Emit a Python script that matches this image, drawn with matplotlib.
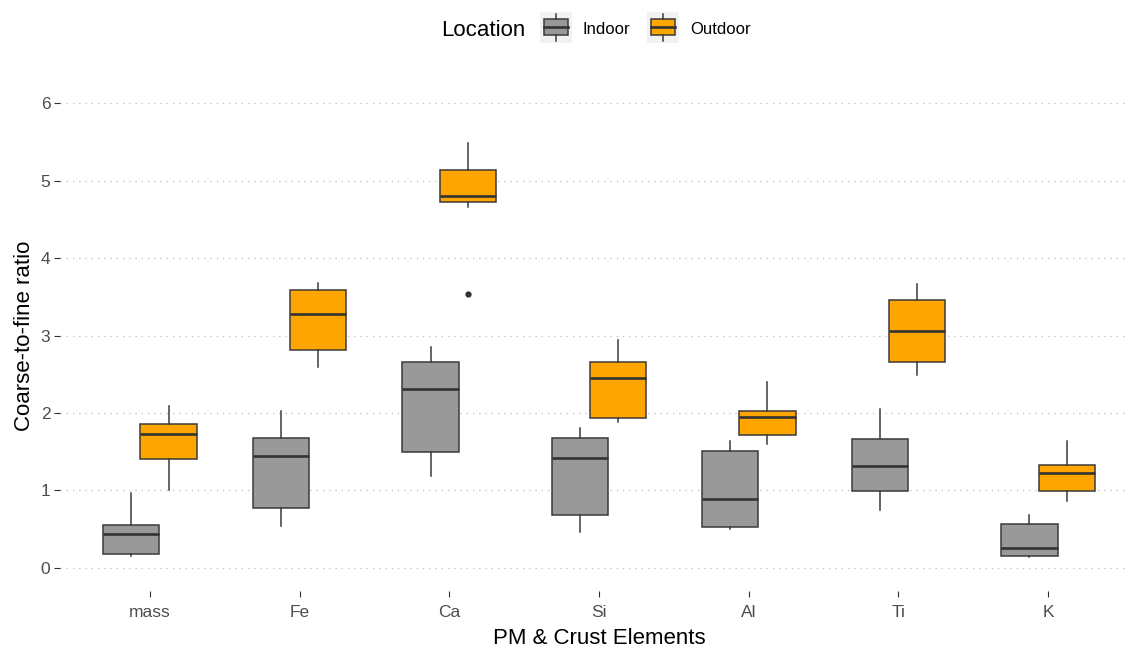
import matplotlib.pyplot as plt
from matplotlib.patches import Rectangle

plt.rcParams['font.family'] = ['Liberation Sans', 'DejaVu Sans']

W, H = 1126, 651

# categories and groups
elements = ["mass", "Fe", "Ca", "Si", "Al", "Ti", "K"]
locations = ["Indoor", "Outdoor"]
fills = ["#999999", "#FFA500"]

# five-number summaries
indoor_whislo = [0.15, 0.54, 1.19, 0.46, 0.50, 0.74, 0.14]
indoor_q1     = [0.18, 0.77, 1.49, 0.68, 0.53, 0.99, 0.15]
indoor_med    = [0.43, 1.45, 2.31, 1.42, 0.89, 1.32, 0.26]
indoor_q3     = [0.55, 1.68, 2.66, 1.67, 1.51, 1.66, 0.56]
indoor_whishi = [0.97, 2.02, 2.85, 1.81, 1.64, 2.05, 0.68]
indoor_fliers = [[], [], [], [], [], [], []]

outdoor_whislo = [1.01, 2.59, 4.66, 1.88, 1.60, 2.49, 0.86]
outdoor_q1     = [1.41, 2.81, 4.72, 1.94, 1.71, 2.66, 0.99]
outdoor_med    = [1.73, 3.28, 4.80, 2.45, 1.95, 3.06, 1.23]
outdoor_q3     = [1.86, 3.59, 5.14, 2.66, 2.03, 3.46, 1.33]
outdoor_whishi = [2.09, 3.68, 5.49, 2.94, 2.40, 3.67, 1.64]
outdoor_fliers = [[], [], [3.54], [], [], [], []]

y_ticks = [0, 1, 2, 3, 4, 5, 6]


def make_stats(lo, q1, med, q3, hi, fl):
    return [dict(whislo=a, q1=b, med=c, q3=d, whishi=e, fliers=f)
            for a, b, c, d, e, f in zip(lo, q1, med, q3, hi, fl)]


groups = [
    make_stats(indoor_whislo, indoor_q1, indoor_med, indoor_q3, indoor_whishi, indoor_fliers),
    make_stats(outdoor_whislo, outdoor_q1, outdoor_med, outdoor_q3, outdoor_whishi, outdoor_fliers),
]

fig = plt.figure(figsize=(W / 100, H / 100), dpi=100)
# panel runs past the right edge, as in the cropped original
ax = fig.add_axes([60 / W, (H - 591) / H, 1078 / W, 511 / H])

edge = "#3A3A3A"
offsets = [-0.125, 0.125]
for stats, fill, off in zip(groups, fills, offsets):
    pos = [i + 1 + off for i in range(len(elements))]
    ax.bxp(stats, positions=pos, widths=0.375, patch_artist=True, showcaps=False,
           boxprops=dict(facecolor=fill, edgecolor=edge, linewidth=1.1),
           medianprops=dict(color="#333333", linewidth=1.9),
           whiskerprops=dict(color=edge, linewidth=1.1),
           flierprops=dict(marker="o", markersize=3.5, markerfacecolor="#333333",
                           markeredgecolor="#333333"))

ax.set_xlim(0.4, 7.6)
ax.set_ylim(-0.3, 6.3)
ax.set_xticks(range(1, len(elements) + 1))
ax.set_xticklabels(elements)
ax.set_yticks(y_ticks)
ax.set_yticklabels([str(v) for v in y_ticks])
ax.tick_params(length=4, width=0.8, color="#333333", labelcolor="#4D4D4D",
               labelsize=12.5, pad=3)
ax.tick_params(axis="x", pad=6)
for s in ax.spines.values():
    s.set_visible(False)
ax.yaxis.grid(True, linestyle=(0, (1, 4)), color="#BEBEBE", linewidth=0.9)
ax.set_axisbelow(True)

ax.set_xlabel("PM & Crust Elements", fontsize=16, labelpad=6)
ax.set_ylabel("Coarse-to-fine ratio", fontsize=16, labelpad=4)

# legend drawn by hand, ggplot style
fig.text(441 / W, 1 - 30 / H, "Location", fontsize=16, va="center", ha="left")
key_x = [540, 647]
label_x = [583, 690]
for kx, lx, fill, name in zip(key_x, label_x, fills, locations):
    kax = fig.add_axes([kx / W, 1 - 43 / H, 32 / W, 31 / H])
    kax.set_xlim(0, 1)
    kax.set_ylim(0, 1)
    kax.axis("off")
    kax.add_patch(Rectangle((0, 0), 1, 1, facecolor="#F2F2F2", edgecolor="none"))
    kax.plot([0.5, 0.5], [0.05, 0.26], color=edge, lw=1.1)
    kax.plot([0.5, 0.5], [0.76, 0.95], color=edge, lw=1.1)
    kax.add_patch(Rectangle((0.125, 0.26), 0.75, 0.5, facecolor=fill,
                            edgecolor=edge, lw=1.1))
    kax.plot([0.125, 0.875], [0.51, 0.51], color="#333333", lw=1.9)
    fig.text(lx / W, 1 - 30 / H, name, fontsize=12, va="center", ha="left")

fig.savefig("out.png", dpi=100)
